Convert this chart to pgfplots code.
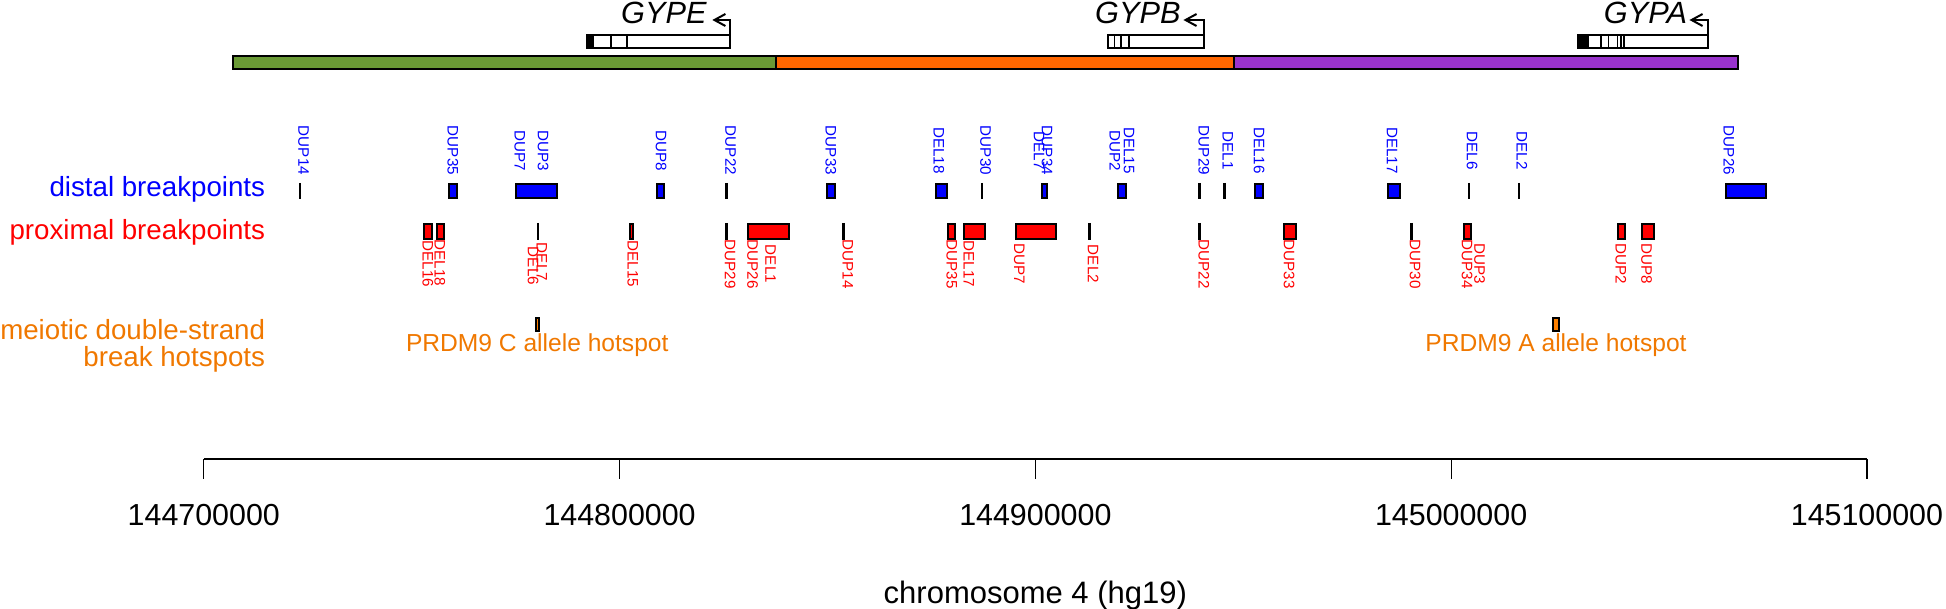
\documentclass[border=0pt]{standalone}
\usepackage{pgfplots}
\pgfplotsset{compat=1.18}
\usepackage{fontspec}
\setmainfont{Liberation Sans}
\usetikzlibrary{arrows.meta}
\definecolor{cgreen}{HTML}{6A9A35}
\definecolor{corange}{HTML}{FF6600}
\definecolor{cpurple}{HTML}{9933CC}
\definecolor{cblue}{HTML}{0000FF}
\definecolor{cred}{HTML}{FF0000}
\definecolor{chot}{HTML}{FF8000}
\definecolor{chottext}{HTML}{F07800}
\newcommand{\fs}[1]{\fontsize{#1}{#1}\selectfont}
\pgfplotsset{
  bx/.style={draw=black, line width=1pt, line join=miter},
  ln/.style={draw=black, line width=1.25pt},
  ex/.style={draw=black, line width=0.8pt},
}
% positions in kb relative to 144,700,000 ; y in picture rows (0 = top)
\newcommand{\dbox}[2]{\addplot[bx, fill=cblue] coordinates {(#1,184) (#2,184) (#2,198) (#1,198)} -- cycle;}
\newcommand{\pbox}[2]{\addplot[bx, fill=cred] coordinates {(#1,224) (#2,224) (#2,239) (#1,239)} -- cycle;}
\newcommand{\hsbox}[2]{\addplot[bx, fill=chot] coordinates {(#1,318) (#2,318) (#2,331) (#1,331)} -- cycle;}
\newcommand{\dln}[1]{\addplot[ln] coordinates {(#1,183) (#1,199)};}
\newcommand{\pln}[1]{\addplot[ln] coordinates {(#1,223) (#1,240)};}
\newcommand{\chr}[3]{\addplot[bx, fill=#3] coordinates {(#1,56) (#2,56) (#2,69) (#1,69)} -- cycle;}
\newcommand{\gene}[2]{\addplot[bx, fill=white] coordinates {(#1,35) (#2,35) (#2,48) (#1,48)} -- cycle;}
\newcommand{\utr}[2]{\addplot[bx, fill=black] coordinates {(#1,35) (#2,35) (#2,48) (#1,48)} -- cycle;}
\newcommand{\exon}[1]{\addplot[ex] coordinates {(#1,35) (#1,48)};}
\newcommand{\tss}[2]{\addplot[draw=black, line width=1pt, -{Straight Barb[length=5.5pt, width=6pt, line width=1pt]}] coordinates {(#1,35) (#1,20) (#2,20)};}
\begin{document}
\begin{tikzpicture}
\begin{axis}[
  at={(0,0)}, anchor=south west, scale only axis,
  width=973pt, height=304.5pt,
  xmin=-49.01, xmax=419.0, ymin=0, ymax=609, y dir=reverse,
  hide axis, clip=false,
]
% chromosome segments
\chr{7.0}{137.6}{cgreen}
\chr{137.6}{247.8}{corange}
\chr{247.8}{369.0}{cpurple}
% gene models
\gene{92.2}{126.6}
\utr{92.2}{93.7}
\exon{97.9}\exon{101.8}
\tss{126.6}{122.3}
\gene{217.5}{240.5}
\exon{219.0}\exon{220.6}\exon{222.5}
\tss{240.5}{235.6}
\gene{330.6}{361.8}
\utr{330.6}{332.8}
\exon{336.0}\exon{337.8}\exon{340.0}\exon{340.9}\exon{341.6}
\tss{361.8}{357.3}
\node[anchor=base east, inner sep=0pt, font=\fs{15.35}\itshape] at (axis cs:121.0,24) {GYPE};
\node[anchor=base east, inner sep=0pt, font=\fs{15.35}\itshape] at (axis cs:235.0,24) {GYPB};
\node[anchor=base east, inner sep=0pt, font=\fs{15.35}\itshape] at (axis cs:356.8,24) {GYPA};
% distal breakpoints
\dln{23.1}
\dbox{58.9}{60.8}
\dbox{75.2}{85.0}
\dbox{109.0}{110.7}
\dln{125.7}
\dbox{149.9}{151.8}
\dbox{176.0}{178.8}
\dln{187.1}
\dbox{201.5}{202.7}
\dbox{219.9}{221.7}
\dln{239.5}
\dln{245.5}
\dbox{252.9}{254.7}
\dbox{284.9}{287.7}
\dln{304.3}
\dln{316.3}
\dbox{366.0}{375.7}
% proximal breakpoints
\pbox{53.0}{54.8}
\pbox{56.0}{57.7}
\pln{80.4}
\pbox{102.4}{103.3}
\pln{125.7}
\pbox{131.0}{140.7}
\pln{153.8}
\pbox{179.0}{180.7}
\pbox{182.9}{187.8}
\pbox{195.3}{205.0}
\pln{213.0}
\pln{239.5}
\pbox{259.9}{262.7}
\pln{290.5}
\pbox{303.0}{304.7}
\pbox{340.0}{341.8}
\pbox{346.0}{348.7}
% hotspots
\hsbox{79.8}{80.6}
\hsbox{324.4}{326.0}
% distal labels
\addplot[draw=none, mark=none, point meta=explicit symbolic, nodes near coords,
  nodes near coords style={anchor=center, rotate=-90, inner sep=0pt, font=\fs{7.6}, text=cblue}]
  table[meta=lab]{
x y lab
24.0 150.5 DUP14
59.9 150.5 DUP35
76.0 150.5 DUP7
81.6 150.5 DUP3
110.0 150.5 DUP8
126.7 150.5 DUP22
150.8 150.5 DUP33
176.8 150.5 DEL18
188.0 150.5 DUP30
200.9 150.5 DEL7
202.8 150.5 DUP34
219.1 150.5 DUP2
222.5 150.5 DEL15
240.5 150.5 DUP29
246.3 150.5 DEL1
253.8 150.5 DEL16
285.8 150.5 DEL17
305.0 150.5 DEL6
317.0 150.5 DEL2
366.8 150.5 DUP26
};
% proximal labels
\addplot[draw=none, mark=none, point meta=explicit symbolic, nodes near coords,
  nodes near coords style={anchor=center, rotate=-90, inner sep=0pt, font=\fs{7.6}, text=cred}]
  table[meta=lab]{
x y lab
53.9 264 DEL16
56.8 263 DEL18
79.2 266 DEL6
81.3 262 DEL7
103.2 264 DEL15
126.6 264 DUP29
132.0 264 DUP26
136.3 264 DEL1
154.9 264 DUP14
179.9 264 DUP35
184.0 264 DEL17
196.1 264 DUP7
213.9 264 DEL2
240.5 264 DUP22
261.0 264 DUP33
291.3 264 DUP30
303.8 264 DUP34
306.8 264 DUP3
340.8 264 DUP2
347.0 264 DUP8
};
% row titles
\node[anchor=base east, inner sep=0pt, font=\fs{13.85}, text=cblue] at (axis cs:14.84,197) {distal breakpoints};
\node[anchor=base east, inner sep=0pt, font=\fs{13.85}, text=cred] at (axis cs:14.84,240) {proximal breakpoints};
\node[anchor=base east, inner sep=0pt, font=\fs{13.85}, text=chottext] at (axis cs:14.84,340) {meiotic double-strand};
\node[anchor=base east, inner sep=0pt, font=\fs{13.85}, text=chottext] at (axis cs:14.84,366) {break hotspots};
\node[anchor=base, inner sep=0pt, font=\fs{12.3}, text=chottext] at (axis cs:80.2,351.5) {PRDM9 C allele hotspot};
\node[anchor=base, inner sep=0pt, font=\fs{12.3}, text=chottext] at (axis cs:325.2,351.5) {PRDM9 A allele hotspot};
\end{axis}
% genomic ruler
\begin{axis}[
  at={(101.9pt,75pt)}, anchor=south west, scale only axis,
  width=831.55pt, height=20pt,
  xmin=0, xmax=400, ymin=0, ymax=1,
  axis x line=bottom, axis y line=none,
  x axis line style={-, line width=1.1pt},
  xtick={0,100,200,300,400},
  xticklabels={144700000,144800000,144900000,145000000,145100000},
  tick align=outside, major tick length=10pt,
  xtick style={line width=0.6pt, black},
  xticklabel style={font=\fs{15.2}, anchor=base, inner sep=0pt, yshift=-23.5pt},
  xlabel={chromosome 4 (hg19)},
  xlabel style={at={(axis description cs:0.5,0)}, anchor=base, yshift=-72pt, font=\fs{15.5}, inner sep=0pt},
]
\addplot[draw=none, mark=none] coordinates {(0,0.5) (400,0.5)};
\end{axis}
\pgfresetboundingbox
\useasboundingbox (0,0) rectangle (973pt,304.5pt);
\end{tikzpicture}
\end{document}
